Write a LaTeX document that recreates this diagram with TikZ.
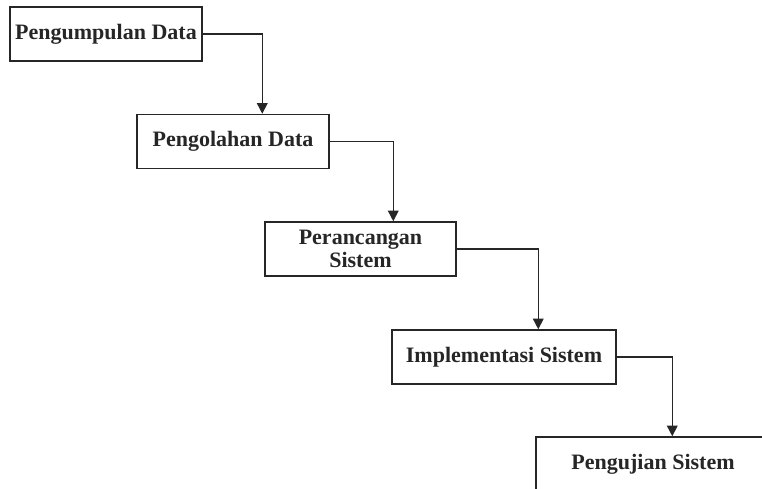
\documentclass[tikz,border=0pt]{standalone}
\usepackage{fontspec}
\setmainfont{Liberation Serif}
\usetikzlibrary{calc,arrows.meta}
\begin{document}
\begin{tikzpicture}[x=0.75pt,y=-0.75pt,
  box/.style={draw=black!85,line width=1.1pt,fill=white,minimum height=40.5pt,inner sep=0pt,
    font=\fontsize{16.5pt}{17.5pt}\selectfont\bfseries,text=black!85,align=center},
  conn/.style={draw=black!85,line width=1.1pt,-{Triangle[length=8pt,width=8pt]}}]
\useasboundingbox (0,0) rectangle (762,488);
\clip (0,0) rectangle (762,488);
\node[box,minimum width=144pt] (b1) at (106,34) {Pengumpulan Data};
\node[box,minimum width=144pt] (b2) at (233,141.5) {Pengolahan Data};
\node[box,minimum width=143.25pt] (b3) at (360.5,249) {Perancangan\\Sistem};
\node[box,minimum width=168pt] (b4) at (504,357) {Implementasi Sistem};
\node[box,minimum width=175.5pt] (b5) at (653,464) {Pengujian Sistem};
\draw[conn] (b1.east) -| ($(b2.north west)+(126,0)$);
\draw[conn] (b2.east) -| ($(b3.north west)+(129,0)$);
\draw[conn] (b3.east) -| ($(b4.north west)+(147,0)$);
\draw[conn] (b4.east) -| ($(b5.north west)+(137,0)$);
\end{tikzpicture}
\end{document}
